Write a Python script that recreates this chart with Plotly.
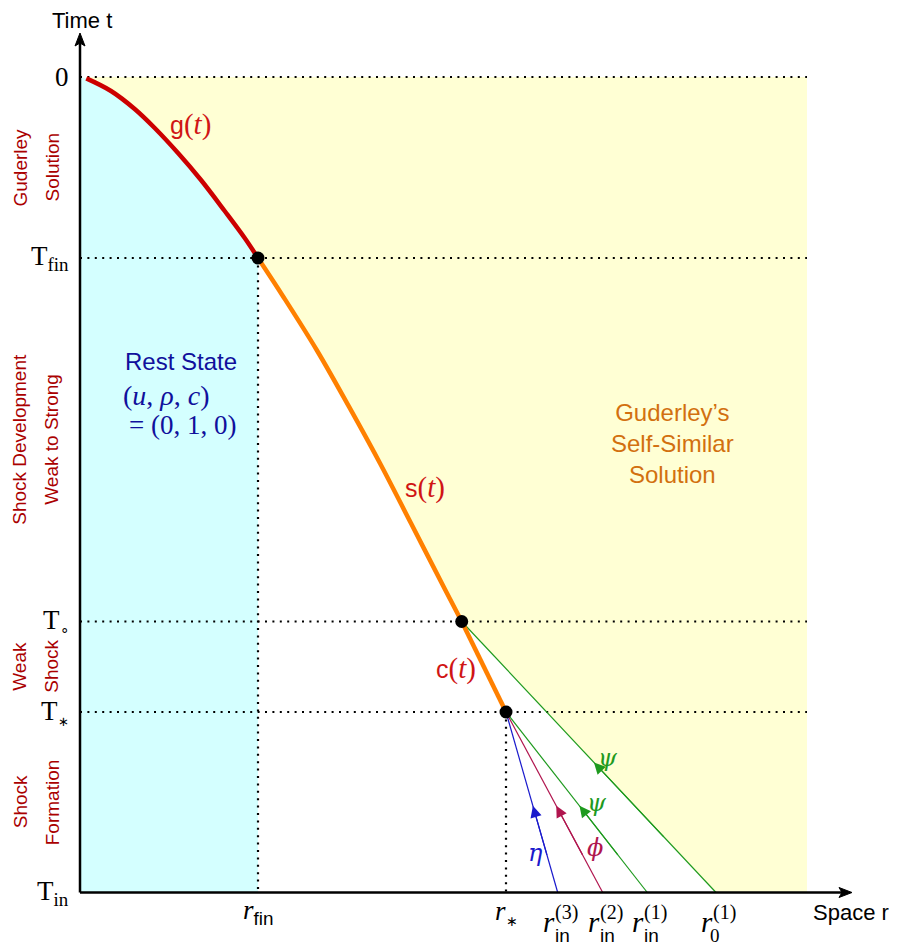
import plotly.graph_objects as go

# ---------------- data (schematic units: r = space, t = time, t=0 at top) ----------------
T_zero = 0.0
T_fin = -1.81
T_o = -5.445
T_star = -6.35
T_in = -8.155

r_fin = 1.78
r_o = 3.817
r_star = 4.26
r_in = [4.777, 5.227, 5.673]          # r_in^(3), r_in^(2), r_in^(1)
r_0 = 6.36
r_right = 7.27

# g(t): Guderley solution curve
g_r = [0.063, 0.31, 0.547, 0.747, 0.98, 1.21, 1.447, 1.647, 1.78]
g_t = [-0.014, -0.14, -0.32, -0.51, -0.76, -1.03, -1.34, -1.61, -1.81]
# s(t): shock development curve
s_r = [1.78, 2.033, 2.367, 2.69, 3.0, 3.31, 3.653, 3.817]
s_t = [-1.81, -2.197, -2.73, -3.297, -3.863, -4.463, -5.13, -5.445]
# c(t): weak shock
c_r = [3.817, 4.26]
c_t = [-5.445, -6.35]

y_tick_vals = [T_zero, T_fin, T_o, T_star, T_in]
y_tick_text = ["0", "T<sub>fin</sub>",
               "T<sub><span style='font-size:15px'>∘</span></sub>",
               "T<sub><span style='font-size:13px'>∗</span></sub>",
               "T<sub>in</sub>"]

region_bounds = [(T_zero, T_fin), (T_fin, T_o), (T_o, T_star), (T_star, T_in)]
region_text_1 = ["Guderley", "Shock Development", "Weak", "Shock"]
region_text_2 = ["Solution", "Weak to Strong", "Shock", "Formation"]

char_starts = [(r_star, T_star), (r_star, T_star), (r_star, T_star), (r_o, T_o)]
char_ends = [(r_in[0], T_in), (r_in[1], T_in), (r_in[2], T_in), (r_0, T_in)]
char_colors = ["#1a1acc", "#b0154e", "#1e9a1e", "#1e9a1e"]

# ---------------- helpers ----------------
SANS = "Liberation Sans"
SERIF = "Liberation Serif"
W, H = 897, 945
OFF = 8                          # page body margin
X0, Y0, S = 80.0, 77.0, 100.0   # pixel of r=0, pixel of t=0, pixels per unit


def P(px, py):
    return (px - X0) / S, -(py - Y0) / S


fig = go.Figure()

# fills
fig.add_trace(go.Scatter(
    x=[0] + g_r + [r_fin, 0], y=[T_zero] + g_t + [T_in, T_in],
    fill="toself", fillcolor="#d4ffff", mode="lines", line=dict(width=0),
    hoverinfo="skip"))
fig.add_trace(go.Scatter(
    x=g_r + s_r[1:] + [r_0, r_right, r_right, g_r[0]],
    y=g_t + s_t[1:] + [T_in, T_in, T_zero, T_zero],
    fill="toself", fillcolor="#ffffd4", mode="lines", line=dict(width=0),
    hoverinfo="skip"))

# dotted guide lines
dx, dy = [], []
for tv in [T_zero, T_fin, T_o, T_star]:
    dx += [0, r_right, None]
    dy += [tv, tv, None]
for rv, tv in [(r_fin, T_fin), (r_star, T_star)]:
    dx += [rv, rv, None]
    dy += [tv, T_in, None]
fig.add_trace(go.Scatter(x=dx, y=dy, mode="lines",
                         line=dict(color="black", width=2.2, dash="2px,5.4px"),
                         hoverinfo="skip"))

# characteristic lines
for (sr, st), (er, et), col in zip(char_starts, char_ends, char_colors):
    fig.add_trace(go.Scatter(x=[sr, er], y=[st, et], mode="lines",
                             line=dict(color=col, width=1.2), hoverinfo="skip"))

# curves
fig.add_trace(go.Scatter(x=g_r, y=g_t, mode="lines",
                         line=dict(color="#cc0000", width=4.5, shape="spline"), hoverinfo="skip"))
fig.add_trace(go.Scatter(x=s_r, y=s_t, mode="lines",
                         line=dict(color="#ff8000", width=4.5, shape="spline"), hoverinfo="skip"))
fig.add_trace(go.Scatter(x=c_r, y=c_t, mode="lines",
                         line=dict(color="#ff8000", width=4.5), hoverinfo="skip"))

# junction points
fig.add_trace(go.Scatter(x=[r_fin, r_o, r_star], y=[T_fin, T_o, T_star], mode="markers",
                         marker=dict(color="black", size=13), hoverinfo="skip"))

ann = []

# arrowheads on characteristics
frac = 0.48
for (sr, st), (er, et), col in zip(char_starts, char_ends, char_colors):
    ax_, ay_ = er + 0.2 * (sr - er), et + 0.2 * (st - et)
    x_, y_ = er + frac * (sr - er), et + frac * (st - et)
    ann.append(dict(x=x_, y=y_, ax=ax_, ay=ay_, xref="x", yref="y", axref="x", ayref="y",
                    text="", showarrow=True, arrowhead=2, arrowsize=1.9, arrowwidth=1.2,
                    arrowcolor=col, standoff=0))

# y labels
for tv, tt in zip(y_tick_vals, y_tick_text):
    ann.append(dict(x=0, y=tv, xref="x", yref="y", text=tt, showarrow=False,
                    xanchor="right", yanchor="middle", xshift=-9,
                    font=dict(family=SERIF, size=27, color="black")))

# x labels
lab_t = P(0, 912)[1]
ann.append(dict(x=r_fin, y=lab_t, xref="x", yref="y",
                text="<i>r</i><sub><span style='font-family:Liberation Sans'>fin</span></sub>",
                showarrow=False, xanchor="center", yanchor="middle",
                font=dict(family=SERIF, size=27, color="black")))
ann.append(dict(x=r_star, y=lab_t, xref="x", yref="y",
                text="<i>r</i><sub><span style='font-size:14px'>∗</span></sub>",
                showarrow=False, xanchor="center", yanchor="middle",
                font=dict(family=SERIF, size=27, color="black")))
sup_texts = ["(3)", "(2)", "(1)", "(1)"]
sub_texts = ["in", "in", "in", "0"]
for rv, sp, sb in zip(r_in + [r_0], sup_texts, sub_texts):
    ann.append(dict(x=rv, y=P(0, 922)[1], xref="x", yref="y", text="<i>r</i>",
                    showarrow=False, xanchor="right", yanchor="middle", xshift=-1,
                    font=dict(family=SERIF, size=29, color="black")))
    ann.append(dict(x=rv, y=P(0, 912)[1], xref="x", yref="y", text=sp,
                    showarrow=False, xanchor="left", yanchor="middle", xshift=-5,
                    font=dict(family=SERIF, size=20, color="black")))
    ann.append(dict(x=rv, y=P(0, 935)[1], xref="x", yref="y", text=sb,
                    showarrow=False, xanchor="left", yanchor="middle",
                    xshift=-5 if sb == "in" else -8,
                    font=dict(family=SANS if sb == "in" else SERIF, size=19, color="black")))

# axis titles
tx, ty = P(82, OFF)
ann.append(dict(x=tx, y=ty, xref="x", yref="y", text="Time t", showarrow=False,
                yanchor="top", yshift=2,
                font=dict(family=SANS, size=22, color="black")))
tx, ty = P(851, 912)
ann.append(dict(x=tx, y=ty, xref="x", yref="y", text="Space r", showarrow=False,
                font=dict(family=SANS, size=22, color="black")))

# region labels on the left
c1, c2 = P(20, 0)[0], P(52, 0)[0]
for (ta, tb), l1, l2 in zip(region_bounds, region_text_1, region_text_2):
    tm = 0.5 * (ta + tb)
    for cx, lt in [(c1, l1), (c2, l2)]:
        ann.append(dict(x=cx, y=tm, xref="x", yref="y", text=lt, showarrow=False,
                        textangle=-90, font=dict(family=SANS, size=19, color="#aa0000")))

# curve labels
RED = "#d01515"
for (px, py), lt in [((190, 124), "g"), ((425, 487), "s"), ((456, 668), "c")]:
    x_, y_ = P(px, py)
    ann.append(dict(x=x_, y=y_, xref="x", yref="y", showarrow=False,
                    text=lt + "<span style='font-family:Liberation Serif;font-size:29px'>(<i>t</i>)</span>",
                    font=dict(family=SANS, size=25, color=RED)))

# greek labels on characteristics
for (px, py), lt, col in [((535, 853), "η", "#1a1acc"), ((595, 848), "ϕ", "#b0154e"),
                          ((597, 803), "ψ", "#1e9a1e"), ((608, 758), "ψ", "#1e9a1e")]:
    x_, y_ = P(px, py)
    ann.append(dict(x=x_, y=y_, xref="x", yref="y", showarrow=False, text="<i>" + lt + "</i>",
                    font=dict(family="DejaVu Serif", size=24, color=col)))

# region texts
BLUE = "#10109c"
x_, y_ = P(181, 361)
ann.append(dict(x=x_, y=y_, xref="x", yref="y", showarrow=False, text="Rest State",
                font=dict(family=SANS, size=24, color=BLUE)))
x_, y_ = P(121, 395)
ann.append(dict(x=x_, y=y_, xref="x", yref="y", showarrow=False, xanchor="left",
                text="(<i>u</i>, <i>ρ</i>, <i>c</i>)", font=dict(family=SERIF, size=28, color=BLUE)))
x_, y_ = P(127, 425)
ann.append(dict(x=x_, y=y_, xref="x", yref="y", showarrow=False, xanchor="left",
                text="= (0, 1, 0)", font=dict(family=SERIF, size=27, color=BLUE)))
x_, y_ = P(672, 443)
ann.append(dict(x=x_, y=y_, xref="x", yref="y", showarrow=False,
                text="Guderley’s<br>Self-Similar<br>Solution",
                font=dict(family=SANS, size=24, color="#d2700f")))

# axes (lines + arrowheads)
r_axis_tip = P(852, 0)[0]
t_axis_tip = P(0, 33)[1]
shapes = [
    dict(type="line", xref="x", yref="y", x0=0, y0=T_in, x1=0, y1=t_axis_tip - 0.08,
         line=dict(color="black", width=2.5)),
    dict(type="line", xref="x", yref="y", x0=0, y0=T_in, x1=r_axis_tip - 0.08, y1=T_in,
         line=dict(color="black", width=2.5)),
    dict(type="path", xref="x", yref="y", xsizemode="pixel", ysizemode="pixel",
         xanchor=0, yanchor=t_axis_tip, path="M0,0 L-5,-13 L0,-10 L5,-13 Z",
         fillcolor="black", line=dict(color="black", width=1)),
    dict(type="path", xref="x", yref="y", xsizemode="pixel", ysizemode="pixel",
         xanchor=r_axis_tip, yanchor=T_in, path="M0,0 L-13,5 L-10,0 L-13,-5 Z",
         fillcolor="black", line=dict(color="black", width=1)),
]

# the page body has an 8px margin: shift the visible window so content lands in place
fig.update_layout(
    width=W, height=H, margin=dict(l=0, r=0, t=0, b=0),
    paper_bgcolor="white", plot_bgcolor="white", showlegend=False,
    xaxis=dict(range=[P(OFF, 0)[0], P(OFF + W, 0)[0]], visible=False, fixedrange=True),
    yaxis=dict(range=[P(0, OFF + H)[1], P(0, OFF)[1]], visible=False, fixedrange=True),
    annotations=ann, shapes=shapes,
)

fig.write_html("out.html")
